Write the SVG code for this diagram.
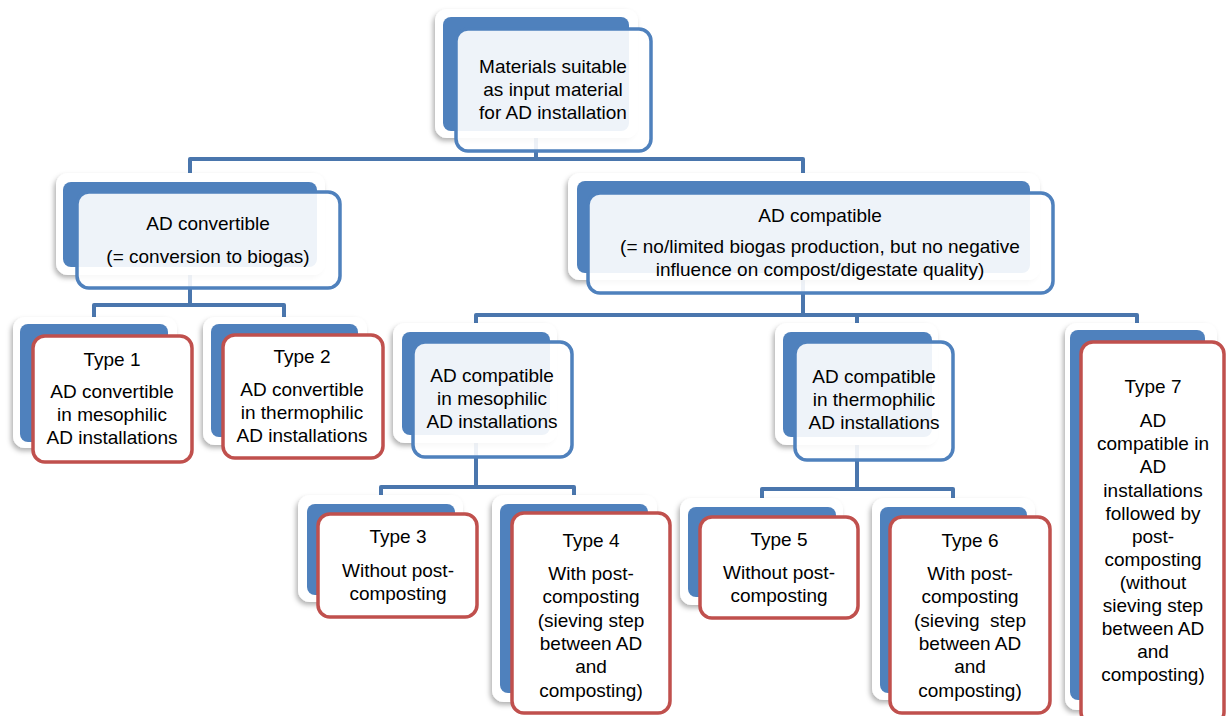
<svg xmlns="http://www.w3.org/2000/svg" width="1226" height="716" viewBox="0 0 1226 716">
<defs>
<filter id="sh" x="-20%" y="-20%" width="140%" height="140%">
<feDropShadow dx="-2" dy="3" stdDeviation="2.5" flood-color="#000" flood-opacity="0.3"/>
</filter>
<style>
.card{fill:#fff;filter:url(#sh)}
.back{fill:#4f81bd}
.fb{fill:#fff;fill-opacity:0.9;stroke:#4f81bd;stroke-width:3.5}
.fr{fill:#fff;stroke:#c0504d;stroke-width:3.5}
.conn{fill:none;stroke:#4a76ad;stroke-width:4;stroke-linejoin:round}
text{font-family:"Liberation Sans",Arial,sans-serif;font-size:19px;fill:#000;text-anchor:middle}
</style>
</defs>
<rect width="1226" height="716" fill="#fff"/>
<g id="connectors">
<path class="conn" d="M536,130 V159 M190,182 V159 H803 V181"/>
<path class="conn" d="M190,267 V305 M94,324 V305 H284 V324"/>
<path class="conn" d="M803,273 V315 M476,332 V315 H1137 V330 M857,315 V332"/>
<path class="conn" d="M476,435 V487 M381,504 V487 H574 V504"/>
<path class="conn" d="M857,437 V489 M762,507 V489 H953 V507"/>
</g>
<g id="root">
<rect class="card" x="435" y="9" width="203" height="129" rx="12"/>
<rect class="back" x="443" y="17" width="186" height="114" rx="8"/>
<rect class="fb" x="456" y="29" width="195" height="122" rx="12"/>
<text x="553" y="73">Materials suitable</text>
<text x="553" y="96">as input material</text>
<text x="553" y="119">for AD installation</text>
</g>
<g id="ad-convertible">
<rect class="card" x="56" y="173" width="269" height="102" rx="12"/>
<rect class="back" x="63" y="182" width="254" height="85" rx="8"/>
<rect class="fb" x="77" y="192" width="263" height="96" rx="12"/>
<text x="208" y="230">AD convertible</text>
<text x="208" y="263">(= conversion to biogas)</text>
</g>
<g id="ad-compatible">
<rect class="card" x="568" y="173" width="472" height="107" rx="12"/>
<rect class="back" x="577" y="181" width="453" height="92" rx="8"/>
<rect class="fb" x="588" y="193" width="465" height="100" rx="12"/>
<text x="820" y="222">AD compatible</text>
<text x="820" y="253">(= no/limited biogas production, but no negative</text>
<text x="820" y="276">influence on compost/digestate quality)</text>
</g>
<g id="type1">
<rect class="card" x="13" y="317" width="164" height="131" rx="12"/>
<rect class="back" x="20" y="324" width="148" height="118" rx="8"/>
<rect class="fr" x="33" y="336" width="159" height="126" rx="12"/>
<text x="112" y="366">Type 1</text>
<text x="112" y="398">AD convertible</text>
<text x="112" y="421">in mesophilic</text>
<text x="112" y="444">AD installations</text>
</g>
<g id="type2">
<rect class="card" x="203" y="317" width="164" height="128" rx="12"/>
<rect class="back" x="211" y="324" width="147" height="113" rx="8"/>
<rect class="fr" x="223" y="335" width="160" height="123" rx="12"/>
<text x="302" y="363">Type 2</text>
<text x="302" y="396">AD convertible</text>
<text x="302" y="419">in thermophilic</text>
<text x="302" y="442">AD installations</text>
</g>
<g id="ad-compatible-meso">
<rect class="card" x="393" y="323" width="164" height="120" rx="12"/>
<rect class="back" x="402" y="332" width="148" height="103" rx="8"/>
<rect class="fb" x="413" y="342" width="159" height="115" rx="12"/>
<text x="492" y="382">AD compatible</text>
<text x="492" y="405">in mesophilic</text>
<text x="492" y="428">AD installations</text>
</g>
<g id="ad-compatible-thermo">
<rect class="card" x="775" y="323" width="163" height="122" rx="12"/>
<rect class="back" x="783" y="332" width="149" height="105" rx="8"/>
<rect class="fb" x="795" y="342" width="158" height="118" rx="12"/>
<text x="874" y="383">AD compatible</text>
<text x="874" y="406">in thermophilic</text>
<text x="874" y="429">AD installations</text>
</g>
<g id="type3">
<rect class="card" x="298" y="495" width="165" height="107" rx="12"/>
<rect class="back" x="307" y="504" width="148" height="91" rx="8"/>
<rect class="fr" x="318" y="514" width="159" height="103" rx="12"/>
<text x="398" y="543">Type 3</text>
<text x="398" y="577">Without post-</text>
<text x="398" y="600">composting</text>
</g>
<g id="type4">
<rect class="card" x="492" y="495" width="165" height="207" rx="12"/>
<rect class="back" x="500" y="504" width="148" height="189" rx="8"/>
<rect class="fr" x="512" y="513" width="158" height="200" rx="12"/>
<text x="591" y="547">Type 4</text>
<text x="591" y="580">With post-</text>
<text x="591" y="603">composting</text>
<text x="591" y="627">(sieving step</text>
<text x="591" y="650">between AD</text>
<text x="591" y="673">and</text>
<text x="591" y="697">composting)</text>
</g>
<g id="type5">
<rect class="card" x="680" y="498" width="163" height="107" rx="12"/>
<rect class="back" x="688" y="507" width="148" height="90" rx="8"/>
<rect class="fr" x="700" y="517" width="158" height="101" rx="12"/>
<text x="779" y="546">Type 5</text>
<text x="779" y="579">Without post-</text>
<text x="779" y="602">composting</text>
</g>
<g id="type6">
<rect class="card" x="872" y="498" width="163" height="202" rx="12"/>
<rect class="back" x="880" y="507" width="147" height="186" rx="8"/>
<rect class="fr" x="890" y="517" width="160" height="196" rx="12"/>
<text x="970" y="547">Type 6</text>
<text x="970" y="580">With post-</text>
<text x="970" y="603">composting</text>
<text x="970" y="627" xml:space="preserve">(sieving  step</text>
<text x="970" y="650">between AD</text>
<text x="970" y="673">and</text>
<text x="970" y="697">composting)</text>
</g>
<g id="type7">
<rect class="card" x="1065" y="323" width="152" height="387" rx="12"/>
<rect class="back" x="1070" y="330" width="135" height="370" rx="8"/>
<rect class="fr" x="1081" y="342" width="143" height="382" rx="12"/>
<text x="1153" y="393">Type 7</text>
<text x="1153" y="427">AD</text>
<text x="1153" y="450">compatible in</text>
<text x="1153" y="473">AD</text>
<text x="1153" y="497">installations</text>
<text x="1153" y="520">followed by</text>
<text x="1153" y="543">post-</text>
<text x="1153" y="566">composting</text>
<text x="1153" y="589">(without</text>
<text x="1153" y="612">sieving step</text>
<text x="1153" y="635">between AD</text>
<text x="1153" y="658">and</text>
<text x="1153" y="681">composting)</text>
</g>
</svg>
